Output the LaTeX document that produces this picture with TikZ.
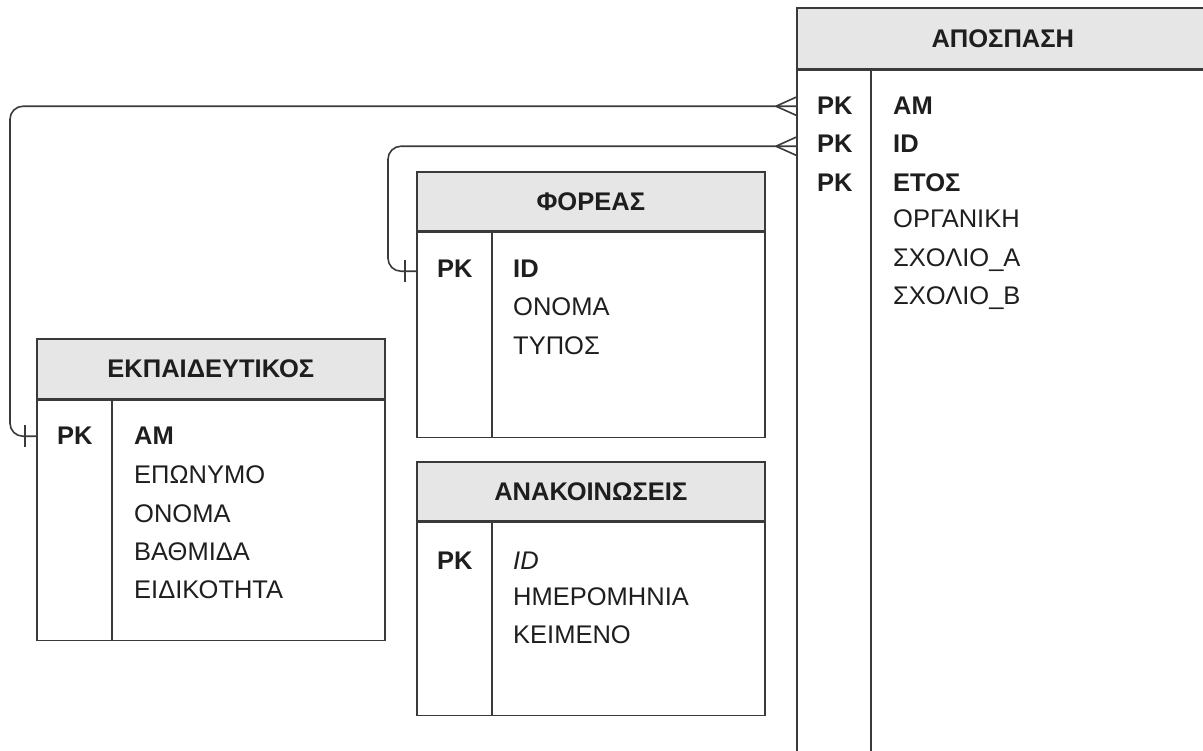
\documentclass[tikz,border=0pt]{standalone}
\usepackage{fontspec}
\setmainfont{Liberation Sans}
\definecolor{lc}{HTML}{3A3A3A}
\definecolor{tc}{HTML}{1E1E1E}
\definecolor{hf}{HTML}{E6E6E6}
\begin{document}
\begin{tikzpicture}[x=1pt,y=-1pt,
  tbl/.style={draw=lc, line width=1.6pt, anchor=north west, inner sep=0pt},
  hdr/.style={tbl, fill=hf, font=\fontsize{25.5}{30}\selectfont\bfseries, text=tc},
  fld/.style={anchor=base west, inner sep=0pt, font=\fontsize{25.5}{30}\selectfont, text=tc},
  pk/.style={fld, font=\fontsize{25.5}{30}\selectfont\bfseries},
  fldi/.style={fld, font=\fontsize{25.5}{30}\selectfont\itshape},
  divider/.style={draw=lc, line width=1.6pt},
  conn/.style={draw=lc, line width=1.6pt, rounded corners=13pt},
  mark line/.style={draw=lc, line width=1.6pt}]
\useasboundingbox (0,0) rectangle (1203,751);
\clip (0,0) rectangle (1203,751);

% ΑΠΟΣΠΑΣΗ
\node[hdr, minimum width=412pt, minimum height=61pt] (aph) at (796,7) {ΑΠΟΣΠΑΣΗ};
\node[tbl, minimum width=412pt, minimum height=720pt] (apb) at (aph.south west) {};
\draw[divider] ([xshift=75pt]apb.north west) -- ([xshift=75pt]apb.south west);
\node[pk] (appk1) at (817,115) {PK};
\node[pk] (appk2) at (817,153) {PK};
\node[pk] (appk3) at (817,192) {PK};
\node[pk] (apf1) at (893,115) {ΑΜ};
\node[pk] (apf2) at (893,153) {ID};
\node[pk] (apf3) at (893,192) {ΕΤΟΣ};
\node[fld] (apf4) at (893,228) {ΟΡΓΑΝΙΚΗ};
\node[fld] (apf5) at (893,267) {ΣΧΟΛΙΟ\_Α};
\node[fld] (apf6) at (893,305) {ΣΧΟΛΙΟ\_Β};

% ΦΟΡΕΑΣ
\node[hdr, minimum width=348pt, minimum height=59pt] (foh) at (416,171) {ΦΟΡΕΑΣ};
\node[tbl, minimum width=348pt, minimum height=205pt] (fob) at (foh.south west) {};
\draw[divider] ([xshift=76pt]fob.north west) -- ([xshift=76pt]fob.south west);
\node[pk] (fopk) at (437,278) {PK};
\node[pk] (fof1) at (513,278) {ID};
\node[fld] (fof2) at (513,316) {ΟΝΟΜΑ};
\node[fld] (fof3) at (513,355) {ΤΥΠΟΣ};

% ΕΚΠΑΙΔΕΥΤΙΚΟΣ
\node[hdr, minimum width=348pt, minimum height=60pt] (ekh) at (36,338) {ΕΚΠΑΙΔΕΥΤΙΚΟΣ};
\node[tbl, minimum width=348pt, minimum height=240pt] (ekb) at (ekh.south west) {};
\draw[divider] ([xshift=76pt]ekb.north west) -- ([xshift=76pt]ekb.south west);
\node[pk] (ekpk) at (57,445) {PK};
\node[pk] (ekf1) at (134,445) {ΑΜ};
\node[fld] (ekf2) at (134,483) {ΕΠΩΝΥΜΟ};
\node[fld] (ekf3) at (134,522) {ΟΝΟΜΑ};
\node[fld] (ekf4) at (134,560) {ΒΑΘΜΙΔΑ};
\node[fld] (ekf5) at (134,598) {ΕΙΔΙΚΟΤΗΤΑ};

% ΑΝΑΚΟΙΝΩΣΕΙΣ
\node[hdr, minimum width=348pt, minimum height=59pt] (anh) at (416,461) {ΑΝΑΚΟΙΝΩΣΕΙΣ};
\node[tbl, minimum width=348pt, minimum height=193pt] (anb) at (anh.south west) {};
\draw[divider] ([xshift=76pt]anb.north west) -- ([xshift=76pt]anb.south west);
\node[pk] (anpk) at (437,569) {PK};
\node[fldi] (anf1) at (513,569) {ID};
\node[fld] (anf2) at (513,605) {ΗΜΕΡΟΜΗΝΙΑ};
\node[fld] (anf3) at (513,643) {ΚΕΙΜΕΝΟ};

% connector ΕΚΠΑΙΔΕΥΤΙΚΟΣ -- ΑΠΟΣΠΑΣΗ
\coordinate (c1a) at (ekb.west |- ekpk.center);
\coordinate (c1b) at (apb.west |- appk1.center);
\draw[conn] (c1a) -- ++(-26,0) |- (c1b);
\draw[mark line] ([shift={(-11pt,-11pt)}]c1a) -- ([shift={(-11pt,11pt)}]c1a);
\draw[mark line] ([xshift=-20pt]c1b) -- ([yshift=9pt]c1b);
\draw[mark line] ([xshift=-20pt]c1b) -- ([yshift=-9pt]c1b);

% connector ΦΟΡΕΑΣ -- ΑΠΟΣΠΑΣΗ
\coordinate (c2a) at ([yshift=-2pt]fob.west |- fopk.center);
\coordinate (c2b) at ([yshift=-2pt]apb.west |- appk2.center);
\draw[conn] (c2a) -- ++(-28,0) |- (c2b);
\draw[mark line] ([shift={(-11pt,-11pt)}]c2a) -- ([shift={(-11pt,11pt)}]c2a);
\draw[mark line] ([xshift=-20pt]c2b) -- ([yshift=9pt]c2b);
\draw[mark line] ([xshift=-20pt]c2b) -- ([yshift=-9pt]c2b);
\end{tikzpicture}
\end{document}
